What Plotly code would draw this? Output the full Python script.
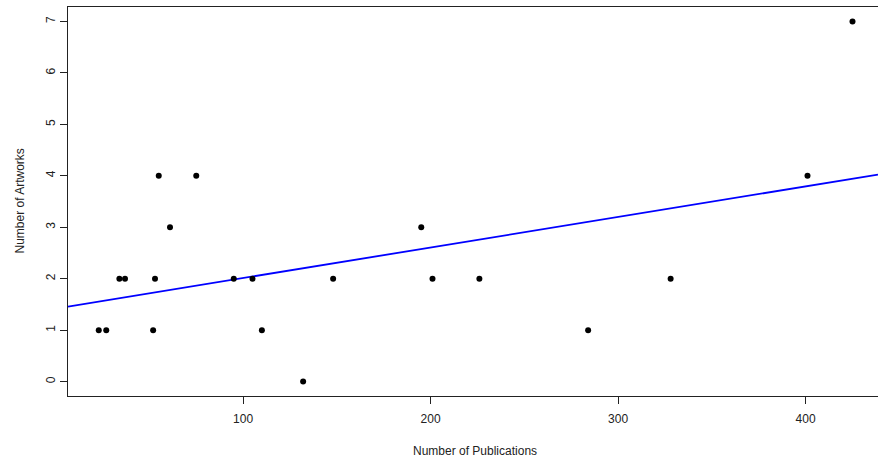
import numpy as np
import plotly.graph_objects as go

publications = [23, 27, 34, 37, 52, 53, 55, 61, 75, 95, 105, 110, 132, 148,
                195, 201, 226, 284, 328, 401, 425]
artworks = [1, 1, 2, 2, 1, 2, 4, 3, 4, 2, 2, 1, 0, 2,
            3, 2, 2, 1, 2, 4, 7]
x_ticks = [100, 200, 300, 400]
y_ticks = [0, 1, 2, 3, 4, 5, 6, 7]

x_range = [6.6, 438.6]
y_range = [-0.28, 7.28]

slope, intercept = np.polyfit(publications, artworks, 1)
line_x = np.array(x_range)
line_y = intercept + slope * line_x

font_family = "Liberation Sans, Arial, sans-serif"

fig = go.Figure()
fig.add_trace(go.Scatter(x=line_x, y=line_y, mode="lines",
                         line=dict(color="#0000ff", width=1.8),
                         hoverinfo="skip", showlegend=False))
fig.add_trace(go.Scatter(x=publications, y=artworks, mode="markers",
                         marker=dict(color="black", size=6),
                         showlegend=False))

fig.update_layout(
    width=878, height=462,
    margin=dict(l=68, r=0, t=7, b=66),
    paper_bgcolor="white", plot_bgcolor="white",
    font=dict(family=font_family, size=12, color="#222"),
    xaxis=dict(range=x_range, tickvals=x_ticks, showgrid=False, zeroline=False,
               showline=True, linecolor="#222", linewidth=1, mirror=True,
               ticks="outside", ticklen=7, tickcolor="#222", tickwidth=1,
               ticklabelstandoff=5,
               tickfont=dict(size=12, color="#222")),
    yaxis=dict(range=y_range, tickvals=y_ticks, showgrid=False, zeroline=False,
               showline=True, linecolor="#222", linewidth=1,
               ticks="outside", ticklen=7, tickcolor="#222", tickwidth=1,
               tickangle=-90, tickfont=dict(size=12, color="#222")),
    annotations=[
        dict(text="Number of Publications", xref="paper", yref="paper",
             x=(475 - 68) / 810, y=0, yshift=-55, showarrow=False,
             xanchor="center", yanchor="middle",
             font=dict(size=12, color="#222")),
        dict(text="Number of Artworks", xref="paper", yref="paper",
             x=0, xshift=-49, y=0.5, showarrow=False, textangle=-90,
             xanchor="center", yanchor="middle",
             font=dict(size=12, color="#222")),
    ],
)

fig.write_html("out.html")
